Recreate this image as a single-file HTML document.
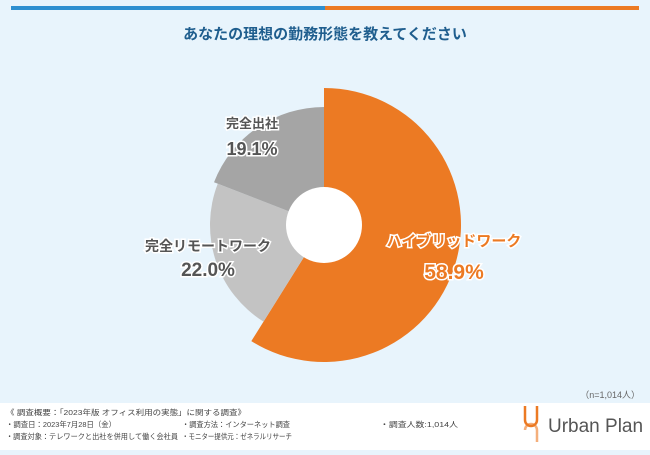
<!DOCTYPE html>
<html><head><meta charset="utf-8">
<style>
body{margin:0;width:650px;height:450px;overflow:hidden;background:#e8f4fc;font-family:"Liberation Sans","Noto Sans CJK JP",sans-serif;}
svg text{font-family:"Liberation Sans","Noto Sans CJK JP",sans-serif;}
</style></head>
<body>
<svg width="650" height="450" viewBox="0 0 650 450">
<rect x="0" y="0" width="650" height="450" fill="#e8f4fc"/>
<rect x="11" y="6" width="314" height="4" fill="#2d8fd0"/>
<rect x="325" y="6" width="314" height="4" fill="#ec7a23"/>
<text x="325" y="39" text-anchor="middle" font-size="15" font-weight="bold" fill="#1f5e8e">あなたの理想の勤務形態を教えてください</text>
<g id="pie"></g>
<circle cx="324" cy="225" r="38" fill="#fff"/>
<g id="labels"></g>
<text x="640" y="398" text-anchor="end" font-size="9" fill="#666">（n=1,014人）</text>
<rect x="0" y="403" width="650" height="47" fill="#fff"/>
<g font-size="7.5" fill="#444">
<text x="6" y="415" textLength="240" lengthAdjust="spacingAndGlyphs">《 調査概要：「2023年版 オフィス利用の実態」に関する調査》</text>
<text x="6" y="427" textLength="110" lengthAdjust="spacingAndGlyphs">・調査日：2023年7月28日（金）</text>
<text x="6" y="439" textLength="172" lengthAdjust="spacingAndGlyphs">・調査対象：テレワークと出社を併用して働く会社員</text>
<text x="182" y="427" textLength="108" lengthAdjust="spacingAndGlyphs">・調査方法：インターネット調査</text>
<text x="182" y="439" textLength="110" lengthAdjust="spacingAndGlyphs">・モニター提供元：ゼネラルリサーチ</text>
<text x="380" y="427" textLength="78" lengthAdjust="spacingAndGlyphs">・調査人数:1,014人</text>
</g>
<g>
<path d="M525 406 v14 a6 6 0 0 0 12 0 v-14" fill="none" stroke="#ec7a23" stroke-width="2.5"/>
<path d="M537 442 v-12 a6 6 0 0 0 -12 0" fill="none" stroke="#ec7a23" stroke-width="2.5" opacity="0.6"/>
<text x="548" y="432" font-size="19" fill="#555">Urban Plan</text>
</g>
</svg>
<script>
const categories = ["ハイブリッドワーク", "完全リモートワーク", "完全出社"];
const values = [58.9, 22.0, 19.1];
const valueLabels = ["58.9%", "22.0%", "19.1%"];
const cx = 324, cy = 225, inner = 38;
const radii = [137, 114, 118];
const colors = ["#ec7a23", "#c3c3c3", "#a5a5a5"];
const NS = "http://www.w3.org/2000/svg";
const pie = document.getElementById("pie");
const total = values.reduce((a, b) => a + b, 0);
function pt(r, a) { return [cx + r * Math.sin(a), cy - r * Math.cos(a)]; }
let start = 0;
values.forEach((v, i) => {
  const end = start + v / total * 2 * Math.PI;
  const r = radii[i];
  const [x1, y1] = pt(r, start), [x2, y2] = pt(r, end);
  const large = end - start > Math.PI ? 1 : 0;
  const p = document.createElementNS(NS, "path");
  p.setAttribute("d", `M${cx} ${cy} L${x1} ${y1} A${r} ${r} 0 ${large} 1 ${x2} ${y2} Z`);
  p.setAttribute("fill", colors[i]);
  
  
  pie.appendChild(p);
  start = end;
});
const labels = document.getElementById("labels");
const labelPos = [[454, 246, 279, "#ec7a23", 15, 21], [208, 251, 276, "#555", 14, 19], [252, 128, 155, "#555", 13, 18]];
categories.forEach((c, i) => {
  const [x, y1, y2, col, f1, f2] = labelPos[i];
  const t1 = document.createElementNS(NS, "text");
  t1.setAttribute("x", x); t1.setAttribute("y", y1);
  t1.setAttribute("text-anchor", "middle");
  t1.setAttribute("font-size", f1); t1.setAttribute("font-weight", "bold");
  t1.setAttribute("fill", col); t1.setAttribute("stroke", "#fff"); t1.setAttribute("stroke-width", "3");
  t1.setAttribute("paint-order", "stroke");
  t1.textContent = c;
  
  
  labels.appendChild(t1);
  const t2 = document.createElementNS(NS, "text");
  t2.setAttribute("x", x); t2.setAttribute("y", y2);
  t2.setAttribute("text-anchor", "middle");
  t2.setAttribute("font-size", f2); t2.setAttribute("font-weight", "bold");
  t2.setAttribute("fill", col); t2.setAttribute("stroke", "#fff"); t2.setAttribute("stroke-width", "3");
  t2.setAttribute("paint-order", "stroke");
  t2.textContent = valueLabels[i];
  
  
  labels.appendChild(t2);
});
</script>
</body></html>
